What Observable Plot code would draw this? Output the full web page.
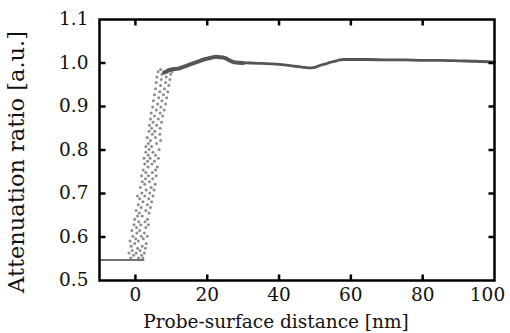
<!DOCTYPE html>
<html>
<head>
<meta charset="utf-8">
<script src="https://cdn.jsdelivr.net/npm/d3@7"></script>
<script src="https://cdn.jsdelivr.net/npm/@observablehq/plot@0.6"></script>
<style>
  html, body { margin: 0; padding: 0; background: #fff; }
  #chart svg { display: block; }
</style>
</head>
<body>
<div id="chart"></div>
<script>
// Baseline (probe far from contact, left of 0)
const baseX = [-10, 2.3];
const baseY = [0.547, 0.547];

// Scattered rise region
const scatX = [
-1.3,0.9,2.1, -0.5,1.7, -1.8,0.2,2.5, -0.9,1.3, 0.6,2.8, -1.2,1.9, -0.2,3.0, 0.8,-1.5, 2.2,0.1,
-0.7,1.6,3.3, 0.4,2.5, -1.0,1.2, 2.9,0.3, 1.5,-0.4,3.6, 0.9,2.7, -0.2,3.4, 1.9,0.6, 3.8,1.1, 0.2,2.9,
1.6,4.2, 0.8,3.3, 2.1,4.5, 1.2,3.7, 0.6,2.6,4.9, 1.8,4.0, 3.0,5.2, 1.4,4.4, 2.6,5.5, 1.9,3.9,
4.8,2.8, 1.7,3.6,5.8, 2.9,4.7, 2.2,5.6, 3.5,6.1, 2.6,4.6, 5.3,3.4, 2.4,4.1,6.4, 3.6,5.6, 2.9,4.9,
6.6,3.8, 4.5,2.9, 5.9,3.6, 4.2,7.0, 3.3,5.6, 4.7,6.8, 3.8,5.4, 6.9,4.5, 3.9,5.9, 7.3,4.9,
4.2,6.4, 5.3,7.6, 4.4,6.9, 5.8,8.0, 4.8,7.1, 6.2,8.4, 5.0,7.4, 6.5,8.7, 5.3,7.8, 6.8,9.0,
5.6,8.1, 7.0,9.3, 5.8,8.4, 7.2,9.6, 6.0,8.6, 7.4,9.8, 6.3,8.8,10.2, 7.0,9.2];
const scatY = [
0.552,0.552,0.552, 0.558,0.558, 0.563,0.563,0.563, 0.569,0.569, 0.574,0.574, 0.579,0.579, 0.585,0.585, 0.591,0.591, 0.596,0.596,
0.602,0.602,0.602, 0.609,0.609, 0.615,0.615, 0.622,0.622, 0.628,0.628,0.628, 0.635,0.635, 0.641,0.641, 0.648,0.648, 0.655,0.655, 0.661,0.661,
0.668,0.668, 0.674,0.674, 0.681,0.681, 0.688,0.688, 0.694,0.694,0.694, 0.701,0.701, 0.708,0.708, 0.714,0.714, 0.721,0.721, 0.727,0.727,
0.734,0.734, 0.741,0.741,0.741, 0.748,0.748, 0.754,0.754, 0.761,0.761, 0.768,0.768, 0.774,0.774, 0.781,0.781,0.781, 0.788,0.788, 0.795,0.795,
0.801,0.801, 0.808,0.808, 0.815,0.815, 0.822,0.822, 0.829,0.829, 0.836,0.836, 0.843,0.843, 0.850,0.850, 0.857,0.857, 0.864,0.864,
0.871,0.871, 0.878,0.878, 0.885,0.885, 0.892,0.892, 0.899,0.899, 0.906,0.906, 0.913,0.913, 0.920,0.920, 0.927,0.927, 0.934,0.934,
0.941,0.941, 0.948,0.948, 0.955,0.955, 0.962,0.962, 0.968,0.968, 0.974,0.974, 0.980,0.980,0.980, 0.985,0.985];

// Dense band after contact
const bandX = [8,9,10,11,12,13,14,15,16,17,18,19,20,21,22,23,24,25,26,27,28,30,32,35,38,40,42,44,46,47,48,49,50,51,52,53,54,55,56,57,58,60,65,70,75,80,85,90,95,100];
const bandY = [0.978,0.982,0.985,0.986,0.987,0.99,0.993,0.996,0.999,1.002,1.005,1.008,1.01,1.012,1.014,1.014,1.013,1.011,1.007,1.003,1.001,1.0,1.0,0.999,0.998,0.997,0.995,0.993,0.991,0.99,0.989,0.989,0.99,0.993,0.996,0.998,1.001,1.003,1.005,1.007,1.008,1.008,1.008,1.007,1.007,1.006,1.006,1.005,1.004,1.002];

const xTicks = [0,20,40,60,80];
const xLastTick = [100];
const xMinorTicks = [0,20,40,60,80];
const yTicks = [0.5,0.6,0.7,0.8,0.9,1.0,1.1];
const yMinorTicks = [0.6,0.7,0.8,0.9,1.0];
const xDomain = [-10, 100];
const yDomain = [0.5, 1.1];

const base = baseX.map((x,i)=>({x, y: baseY[i]}));
const scat = scatX.map((x,i)=>({x, y: scatY[i]}));
const band = bandX.map((x,i)=>({x, y: bandY[i]}));

const W = 510, H = 333, mL = 99, mR = 16, mT = 19, mB = 53;
const fw = W - mL - mR, fh = H - mT - mB, tl = 6;
const dyTick = tl * (yDomain[1] - yDomain[0]) / fh;
const dxTick = tl * (xDomain[1] - xDomain[0]) / fw;

// inward tick segments on all four sides (built from the tick lists)
const tickSegs = [
  ...xMinorTicks.map(v => ({x1: v, x2: v, y1: yDomain[0], y2: yDomain[0] + dyTick})),
  ...xMinorTicks.map(v => ({x1: v, x2: v, y1: yDomain[1], y2: yDomain[1] - dyTick})),
  ...yMinorTicks.map(v => ({x1: xDomain[0], x2: xDomain[0] + dxTick, y1: v, y2: v})),
  ...yMinorTicks.map(v => ({x1: xDomain[1], x2: xDomain[1] - dxTick, y1: v, y2: v}))
];

const chart = Plot.plot({
  width: W,
  height: H,
  marginLeft: mL,
  marginRight: mR,
  marginTop: mT,
  marginBottom: mB,
  style: {fontFamily: "DejaVu Serif", fontSize: "18.5px", color: "#111", background: "#fff"},
  x: {domain: xDomain},
  y: {domain: yDomain},
  marks: [
    Plot.line(base, {x: "x", y: "y", stroke: "#444", strokeWidth: 1.5}),
    Plot.dot(scat, {x: "x", y: "y", r: 1.5, fill: "#707070", fillOpacity: 0.8, stroke: "none"}),
    Plot.line(band.filter(d => d.x <= 30), {x: "x", y: "y", stroke: "#555", strokeWidth: 4, curve: "natural"}),
    Plot.line(band.filter(d => d.x >= 30), {x: "x", y: "y", stroke: "#555", strokeWidth: 2.8, curve: "natural"}),
    Plot.axisX({anchor: "bottom", ticks: xTicks, tickSize: 0, tickPadding: 7, tickFormat: d => String(d), label: null, fontSize: 18.5}),
    Plot.axisX({anchor: "bottom", ticks: xLastTick, tickSize: 0, tickPadding: 7, tickFormat: d => String(d), label: null, fontSize: 18.5, dx: -7}),
    Plot.axisY({anchor: "left", ticks: yTicks, tickSize: 0, tickPadding: 11, tickFormat: d => d.toFixed(1), label: null, fontSize: 18.5}),
    Plot.link(tickSegs, {x1: "x1", y1: "y1", x2: "x2", y2: "y2", stroke: "#000", strokeWidth: 2.5}),
    Plot.frame({stroke: "#000", strokeWidth: 2.5})
  ]
});
document.getElementById("chart").appendChild(chart);

// axis titles as real SVG text
const svg = d3.select(chart);
svg.append("text")
  .attr("x", 276).attr("y", 328)
  .attr("text-anchor", "middle")
  .attr("font-family", "DejaVu Serif").attr("font-size", "18.5px").attr("fill", "#111")
  .text("Probe-surface distance [nm]");
svg.append("text")
  .attr("transform", "translate(24,162) rotate(-90)")
  .attr("text-anchor", "middle")
  .attr("font-family", "DejaVu Serif").attr("font-size", "22.5px").attr("fill", "#111")
  .text("Attenuation ratio [a.u.]");
</script>
</body>
</html>
